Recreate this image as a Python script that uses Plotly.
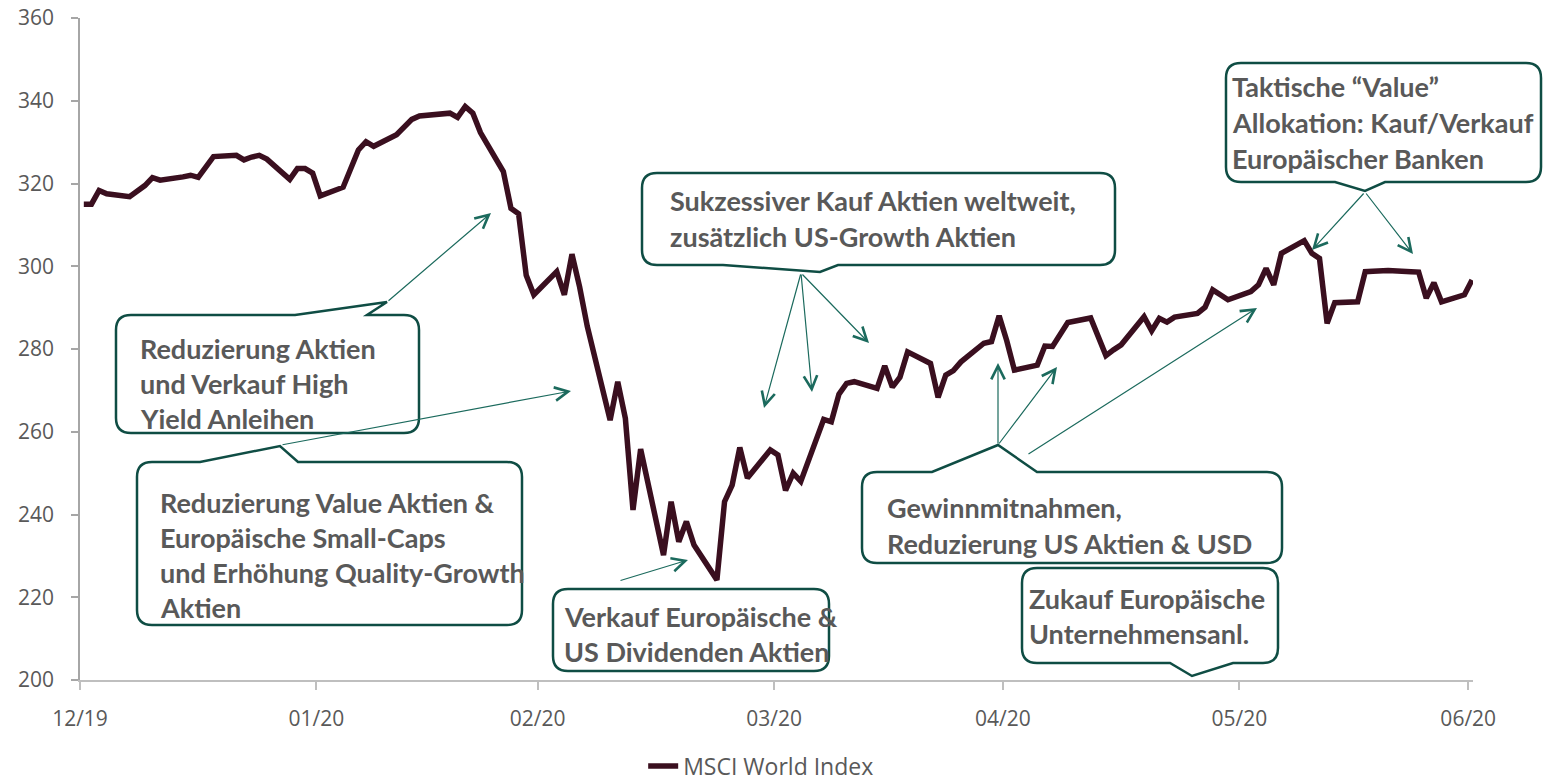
import plotly.graph_objects as go
import pandas as pd

# ---------------- data ----------------
dates = [
    "2019-12-31", "2020-01-01", "2020-01-02", "2020-01-03", "2020-01-06", "2020-01-07", "2020-01-08",
    "2020-01-09", "2020-01-10", "2020-01-13", "2020-01-14", "2020-01-15", "2020-01-16", "2020-01-17",
    "2020-01-20", "2020-01-21", "2020-01-22", "2020-01-23", "2020-01-24", "2020-01-27", "2020-01-28",
    "2020-01-29", "2020-01-30", "2020-01-31", "2020-02-03", "2020-02-04", "2020-02-05", "2020-02-06",
    "2020-02-07", "2020-02-10", "2020-02-11", "2020-02-12", "2020-02-13", "2020-02-14", "2020-02-17",
    "2020-02-18", "2020-02-19", "2020-02-20", "2020-02-21", "2020-02-24", "2020-02-25", "2020-02-26",
    "2020-02-27", "2020-02-28", "2020-03-02", "2020-03-03", "2020-03-04", "2020-03-05", "2020-03-06",
    "2020-03-09", "2020-03-10", "2020-03-11", "2020-03-12", "2020-03-13", "2020-03-16", "2020-03-17",
    "2020-03-18", "2020-03-19", "2020-03-20", "2020-03-23", "2020-03-24", "2020-03-25", "2020-03-26",
    "2020-03-27", "2020-03-30", "2020-03-31", "2020-04-01", "2020-04-02", "2020-04-03", "2020-04-06",
    "2020-04-07", "2020-04-08", "2020-04-09", "2020-04-10", "2020-04-13", "2020-04-14", "2020-04-15",
    "2020-04-16", "2020-04-17", "2020-04-20", "2020-04-21", "2020-04-22", "2020-04-23", "2020-04-24",
    "2020-04-27", "2020-04-28", "2020-04-29", "2020-04-30", "2020-05-01", "2020-05-04", "2020-05-05",
    "2020-05-06", "2020-05-07", "2020-05-08", "2020-05-11", "2020-05-12", "2020-05-13", "2020-05-14",
    "2020-05-15", "2020-05-18", "2020-05-19", "2020-05-20", "2020-05-21", "2020-05-22", "2020-05-25",
    "2020-05-26", "2020-05-27", "2020-05-28", "2020-05-29", "2020-06-01", "2020-06-02", "2020-06-03",
    "2020-06-04", "2020-06-05", "2020-06-08", "2020-06-09", "2020-06-10", "2020-06-11", "2020-06-12",
    "2020-06-15", "2020-06-16", "2020-06-17", "2020-06-18", "2020-06-19", "2020-06-22", "2020-06-23",
    "2020-06-24", "2020-06-25", "2020-06-26", "2020-06-29", "2020-06-30",
]
msci_world = [
    315.0, 315.0, 318.3, 317.5, 316.8, 318.0, 319.5,
    321.4, 320.8, 321.6, 322.0, 321.5, 324.0, 326.5,
    326.8, 325.7, 326.4, 326.8, 325.9, 321.0, 323.6,
    323.6, 322.5, 317.0, 319.1, 323.8, 328.1, 330.1,
    329.0, 331.8, 333.6, 335.5, 336.3, 336.4, 337.0,
    336.0, 338.6, 337.0, 332.3, 322.9, 314.0, 312.7,
    297.8, 293.1, 298.7, 293.1, 302.9, 295.0, 285.5,
    262.8, 272.1, 263.2, 241.1, 255.8, 230.2, 243.1,
    233.4, 238.3, 232.6, 224.2, 243.1, 247.1, 256.2,
    248.8, 255.6, 254.4, 245.8, 250.0, 248.0, 263.0,
    262.4, 269.1, 271.7, 272.1, 270.5, 275.9, 270.8,
    273.2, 279.3, 276.5, 268.3, 273.7, 274.8, 276.9,
    281.4, 281.8, 288.0, 282.0, 274.9, 276.1, 280.7,
    280.6, 283.3, 286.4, 287.5, 282.9, 278.4, 279.8,
    281.0, 287.8, 284.4, 287.4, 286.5, 287.7, 288.6,
    290.1, 294.3, 293.1, 291.9, 293.9, 295.5, 299.5,
    295.5, 303.1, 306.2, 303.1, 301.9, 286.2, 291.2,
    291.4, 298.7, 298.8, 298.9, 299.0, 298.7, 298.6,
    292.3, 296.0, 291.4, 293.1, 296.7,
]
tick_dates = ["2019-12-31", "2020-01-31", "2020-02-29", "2020-03-31",
              "2020-04-30", "2020-05-31", "2020-06-30"]
tick_labels = ["12/19", "01/20", "02/20", "03/20", "04/20", "05/20", "06/20"]
y_ticks = [200, 220, 240, 260, 280, 300, 320, 340, 360]
series_name = "MSCI World Index"

callout_texts = [
    ["Reduzierung Aktien", "und Verkauf High", "Yield Anleihen"],
    ["Reduzierung Value Aktien &", "Europäische Small-Caps", "und Erhöhung Quality-Growth", "Aktien"],
    ["Verkauf Europäische &", "US Dividenden Aktien"],
    ["Sukzessiver Kauf Aktien weltweit,", "zusätzlich US-Growth Aktien"],
    ["Gewinnmitnahmen,", "Reduzierung US Aktien & USD"],
    ["Zukauf Europäische", "Unternehmensanl."],
    ["Taktische \u201cValue\u201d", "Allokation: Kauf/Verkauf", "Europäischer Banken"],
]

# ---------------- layout geometry (pixels) ----------------
FIG_W, FIG_H = 1545, 781
M_L, M_T, M_B, M_R = 80, 18, 101, 72
PW = FIG_W - M_L - M_R
PH = FIG_H - M_T - M_B

def px(x):
    return (x - M_L) / PW

def py(y):
    return (FIG_H - M_B - y) / PH

# Callout boxes: (x0, y0, x1, y1, wedge)  wedge = (side, a, tip_x, tip_y, b)
boxes = [
    (116, 315, 419, 433, ("top", 295, 387, 302, 367)),
    (137, 462, 522, 625, ("top", 200, 280, 446, 298)),
    (553, 589, 829, 671, None),
    (642, 173, 1115, 265, ("bottom", 723, 820, 272, 838)),
    (862, 472, 1282, 563, ("top", 932, 998, 445, 1037)),
    (1022, 568, 1278, 663, ("bottom", 1170, 1192, 676, 1233)),
    (1226, 63, 1541, 182, ("bottom", 1335, 1365, 191, 1385)),
]
text_pos = [  # (left x, first line y, line spacing)
    (138, 348, 35),
    (158, 502, 35),
    (562, 616, 35),
    (668, 200, 36),
    (885, 507, 36),
    (1027, 598, 35),
    (1230, 87, 35.5),
]
arrows = [  # (tail_x, tail_y, head_x, head_y)
    (387, 302, 491, 213),
    (281, 445, 571, 391),
    (619, 581, 688, 560),
    (801, 273, 764, 408),
    (801, 273, 812, 392),
    (801, 273, 869, 343),
    (998, 445, 998, 363),
    (998, 445, 1057, 367),
    (1027, 455, 1257, 308),
    (1365, 192, 1312, 250),
    (1365, 192, 1413, 254),
]

LINE_COLOR = "#3a0f1f"
BOX_COLOR = "#0f4d44"
ARROW_COLOR = "#1b6a5d"
TEXT_COLOR = "#595959"


def callout_path(x0, y0, x1, y1, wedge, r=15):
    def P(x, y):
        return f"{px(x):.5f},{py(y):.5f}"
    d = "M " + P(x0 + r, y0)
    if wedge and wedge[0] == "top":
        _, a, tx, ty, b = wedge
        d += " L " + P(a, y0) + " L " + P(tx, ty) + " L " + P(b, y0)
    d += " L " + P(x1 - r, y0)
    d += " Q " + P(x1, y0) + " " + P(x1, y0 + r)
    d += " L " + P(x1, y1 - r)
    d += " Q " + P(x1, y1) + " " + P(x1 - r, y1)
    if wedge and wedge[0] == "bottom":
        _, a, tx, ty, b = wedge
        d += " L " + P(b, y1) + " L " + P(tx, ty) + " L " + P(a, y1)
    d += " L " + P(x0 + r, y1)
    d += " Q " + P(x0, y1) + " " + P(x0, y1 - r)
    d += " L " + P(x0, y0 + r)
    d += " Q " + P(x0, y0) + " " + P(x0 + r, y0)
    d += " Z"
    return d


x_dt = pd.to_datetime(dates) + pd.Timedelta(hours=12)

fig = go.Figure()
fig.add_trace(go.Scatter(
    x=x_dt, y=msci_world, mode="lines", name=series_name,
    line=dict(color=LINE_COLOR, width=5.5),
))

shapes = []
for (x0, y0, x1, y1, wedge) in boxes:
    shapes.append(dict(
        type="path", xref="paper", yref="paper",
        path=callout_path(x0, y0, x1, y1, wedge),
        line=dict(color=BOX_COLOR, width=2.5), fillcolor="white", layer="above",
    ))

annotations = []
for (tx, ty, hx, hy) in arrows:
    annotations.append(dict(
        x=px(hx), y=py(hy), xref="paper", yref="paper",
        ax=tx - hx, ay=ty - hy, axref="pixel", ayref="pixel",
        text="", showarrow=True, arrowhead=5, arrowsize=2.2, arrowwidth=1.2,
        arrowcolor=ARROW_COLOR, standoff=0, startstandoff=0,
    ))
for lines, (lx, ly, sp) in zip(callout_texts, text_pos):
    for i, t in enumerate(lines):
        annotations.append(dict(
            x=px(lx), y=py(ly + i * sp), xref="paper", yref="paper",
            xanchor="left", yanchor="middle", showarrow=False, text=f"<b>{t}</b>",
            font=dict(family="Lato", size=27, color=TEXT_COLOR),
        ))

fig.update_layout(
    width=FIG_W, height=FIG_H,
    margin=dict(l=M_L, r=M_R, t=M_T, b=M_B, pad=0, autoexpand=False),
    paper_bgcolor="white", plot_bgcolor="white",
    font=dict(family="Open Sans", size=21, color=TEXT_COLOR),
    showlegend=True,
    legend=dict(orientation="h", x=0.489, xanchor="center",
                yref="container", y=1 - 766 / FIG_H, yanchor="middle",
                font=dict(family="Open Sans", size=23, color=TEXT_COLOR)),
    shapes=shapes, annotations=annotations,
    xaxis=dict(
        type="date", range=["2019-12-31", "2020-06-30 15:00"],
        tickvals=tick_dates, ticktext=tick_labels, automargin=False,
        showgrid=False, zeroline=False,
        showline=True, linecolor="#bfbfbf", linewidth=1.5,
        ticks="outside", ticklen=8, tickwidth=1.5, tickcolor="#bfbfbf",
        tickfont=dict(family="Open Sans", size=21, color=TEXT_COLOR),
        ticklabelstandoff=11,
    ),
    yaxis=dict(
        range=[200, 360], tickvals=y_ticks, automargin=False,
        showgrid=False, zeroline=False,
        showline=True, linecolor="#a6a6a6", linewidth=1.5,
        ticks="outside", ticklen=7, tickwidth=1.5, tickcolor="#a6a6a6",
        tickfont=dict(family="Open Sans", size=21, color=TEXT_COLOR),
        ticklabelstandoff=13,
    ),
)

fig.write_html("out.html", config={"displayModeBar": False},
               post_script="document.body.style.margin='0';")
